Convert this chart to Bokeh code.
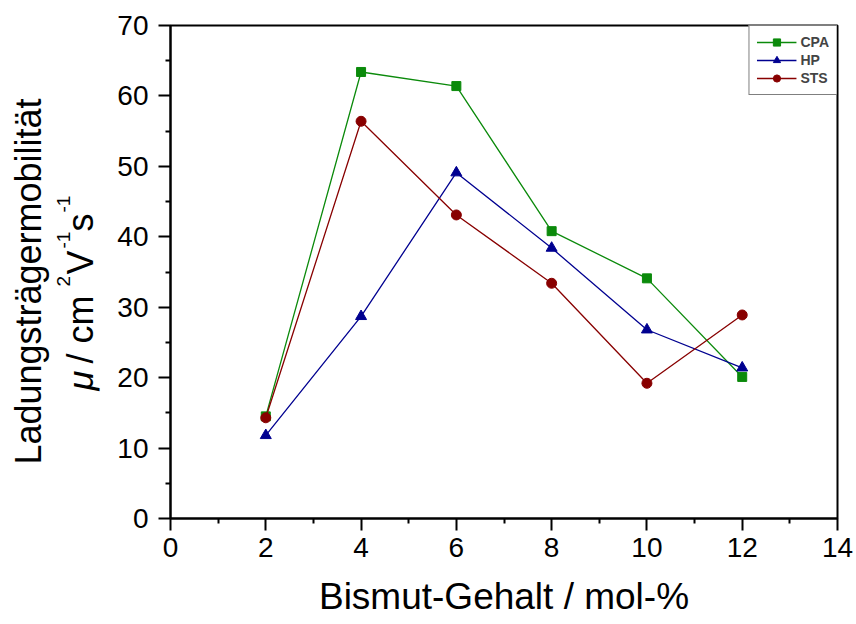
import math

from bokeh.plotting import figure
from bokeh.layouts import row
from bokeh.models import Legend, LegendItem, FixedTicker, Range1d
from bokeh.core.properties import value
from bokeh.embed import file_html
from bokeh.resources import INLINE

# Bismuth content (mol-%) and charge-carrier mobility (cm^2 V^-1 s^-1)
bi_content = [2, 4, 6, 8, 10, 12]
cpa = [14.5, 63.4, 61.4, 40.8, 34.1, 20.1]
hp = [11.8, 28.7, 49.1, 38.4, 26.8, 21.4]
sts = [14.3, 56.4, 43.1, 33.4, 19.2, 28.9]

x_ticks = [0, 2, 4, 6, 8, 10, 12, 14]
y_ticks = [0, 10, 20, 30, 40, 50, 60, 70]

FONT = "Liberation Sans"
H = 624
TOP, BOTTOM = 25, 106
TITLE_W = 105          # strip holding the rotated y title
PLOT_W = 856 - TITLE_W

# ---------------------------------------------------------------- main plot
p = figure(width=PLOT_W, height=H, output_backend="svg", toolbar_location=None,
           x_range=Range1d(0, 14), y_range=Range1d(0, 70),
           min_border_left=65, min_border_right=19,
           min_border_top=TOP, min_border_bottom=BOTTOM)
p.background_fill_color = "white"
p.border_fill_color = "white"
p.grid.visible = False
p.outline_line_color = "black"
p.outline_line_width = 2

for ax in (p.xaxis[0], p.yaxis[0]):
    ax.axis_line_width = 2
    ax.major_tick_line_width = 2
    ax.minor_tick_line_width = 2
    ax.major_tick_out = 12
    ax.major_tick_in = 0
    ax.minor_tick_out = 5
    ax.minor_tick_in = 0
    ax.major_label_text_font = FONT
    ax.major_label_text_font_size = "28px"
    ax.major_label_text_color = "black"

p.xaxis.ticker = FixedTicker(ticks=x_ticks, minor_ticks=[1, 3, 5, 7, 9, 11, 13])
p.yaxis.ticker = FixedTicker(ticks=y_ticks, minor_ticks=[5, 15, 25, 35, 45, 55, 65])
p.xaxis.major_label_standoff = 7
p.yaxis.major_label_standoff = 10

p.xaxis.axis_label = "Bismut-Gehalt / mol-%"
p.xaxis.axis_label_text_font = FONT
p.xaxis.axis_label_text_font_size = "37px"
p.xaxis.axis_label_text_font_style = "normal"
p.xaxis.axis_label_text_color = "black"
p.xaxis.axis_label_standoff = 16

series = [
    ("CPA", cpa, "#0b8a0b", "square", 9),
    ("HP", hp, "#000090", "triangle", 11),
    ("STS", sts, "#880000", "circle", 10),
]

items = []
for name, ys, color, marker, size in series:
    ln = p.line(bi_content, ys, line_color=color, line_width=1.3)
    sc = p.scatter(bi_content, ys, marker=marker, size=size,
                   fill_color=color, line_color=color)
    items.append(LegendItem(label=name, renderers=[ln, sc]))

legend = Legend(items=items, location="top_right", margin=0,
                border_line_color="black", border_line_width=1.5,
                padding=7, spacing=0, glyph_width=40, glyph_height=18,
                label_height=18, label_standoff=4,
                label_text_font=FONT, label_text_font_size="14px",
                label_text_font_style="bold", background_fill_alpha=1)
p.add_layout(legend)

# ------------------------------------------------------- y title strip
# its frame sits level with the main frame; one data unit per pixel,
# y counted upward from the bottom of the page
t = figure(title=None, frame_width=TITLE_W, frame_height=H - TOP - BOTTOM,
           output_backend="svg", toolbar_location=None,
           x_range=Range1d(0, TITLE_W), y_range=Range1d(BOTTOM, H - TOP),
           x_axis_location=None, y_axis_location=None,
           min_border_left=0, min_border_right=0,
           min_border_top=TOP, min_border_bottom=BOTTOM)
t.grid.visible = False
t.outline_line_color = None
t.background_fill_color = "white"
t.border_fill_color = "white"

UP = math.pi / 2
SHIFT = 12   # baseline correction for rotated text


def from_top(py):
    return H - py


t.text(x=[40 - SHIFT], y=[from_top(281)], text=["Ladungsträgermobilität"],
       angle=UP, text_align="center", text_baseline="alphabetic",
       text_font=value(FONT), text_font_size="36px", text_color="black")

# second line: italic mu, then the unit with raised exponents
unit_parts = [
    ("μ", 36, "italic", 0, 27),
    (" / cm", 36, "normal", 0, 77),
    ("2", 19, "normal", 17, 12),
    ("V", 36, "normal", 0, 26),
    ("-1", 19, "normal", 17, 17),
    ("s", 36, "normal", 0, 19),
    ("-1", 19, "normal", 17, 17),
]
baseline = 92 - SHIFT
pos = 390
for txt, size, style, rise, adv in unit_parts:
    t.text(x=[baseline - rise], y=[from_top(pos)], text=[txt], angle=UP,
           text_align="left", text_baseline="alphabetic",
           text_font=value(FONT), text_font_size=f"{size}px",
           text_font_style=style, text_color="black")
    pos -= adv

layout = row(t, p, spacing=0)
open("out.html", "w").write(file_html(layout, INLINE))
